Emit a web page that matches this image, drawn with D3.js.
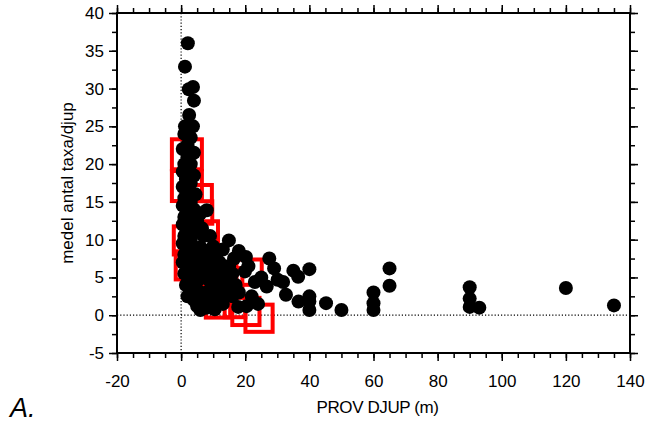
<!DOCTYPE html>
<html><head><meta charset="utf-8">
<script src="https://cdn.jsdelivr.net/npm/d3@7"></script>
<style>body{margin:0;background:#fff;} text{font-family:"Liberation Sans",Arial,sans-serif;}</style>
</head><body>
<svg id="c" width="648" height="423"></svg>
<script>
// Data
const xTicks = [-20, 0, 20, 40, 60, 80, 100, 120, 140];
const yTicks = [-5, 0, 5, 10, 15, 20, 25, 30, 35, 40];
const xLabel = "PROV DJUP (m)";
const yLabel = "medel antal taxa/djup";
const panelLabel = "A.";

// black series: depth (m), mean taxa per depth
const blackX = [2.1,1.2,3.7,2.4,4,2.5,1.2,3.7,
 1,3,2,0.5,4,2,1,3,2.5,0.5,4,1.5,3,0.5,2,4.5,1,3,
 0.5,2,4,6,8,1,3,5,0.5,2,6.5,4,1,3,7,10,9,
 0.5,2,4,6,8,11,13,1,3,5,7,9,12,15,0.5,2,4,6,8,10,12,14,16,1,3,5,7,9,11,13,15,17,1.5,3,6,8,10,12,14,16,2,4,7,9,11,13,5,6,8,15.2,17.8,20.4,10.5,
 14.9,20.2,27.5,29,35,40,30.1,32.7,36.6,40,40,40,45.2,50,60,60,60,65,65,90,90,90,93,120,135,36.5,31.8,26.7,23,19.9,18,22,25,24,21,18,16.5];
const blackY = [36,32.9,30.2,29.9,28.4,26.5,25,25,
 24,23.5,22.5,22,21.5,21,20,20,19.5,19,18.5,18,17.5,17,16.5,16,15.5,15,
 14.5,14,14,13.5,13.9,13,12.5,12.5,12,11.5,11.5,11,10.5,10,10.5,9.1,10.5,
 9.5,9,8.5,9,8.5,8,8.7,8,7.5,7.5,7,7.3,7,6.5,7,6.5,6,6,6,6,5.5,6,5.5,5.5,5,4.5,5,4.5,4.5,4,4.5,4,4,3.5,3,3,3.5,2.5,3,2.5,2.5,2,1.8,1.5,2,1.5,1.2,0.7,1,2.9,1.1,1.2,0.8,
 9.9,7.7,7.5,6.2,5.9,6.1,4.7,2.7,1.8,2.5,0.7,1.8,1.6,0.7,3,1.6,0.7,6.2,3.9,3.7,2.2,1.1,1.0,3.6,1.3,5.1,4.4,3.8,4.4,5.8,3,2.5,5,1.5,6.5,8.5,7.5];

// red series: depth, mean taxa, relative weight (symbol size)
const redX = [1.8,1.8,5.5,6.2,2.1,7.4,5.9,11,11.5,21.2,20.2,24.3,16.8,2.7,15];
const redY = [21.3,17.1,15.5,13.6,9.9,10.7,5.7,3.3,1.3,5.7,0.5,-0.4,1.1,6.6,4.5];
const redW = [32,32,28,24,30,28,30,32,26,27,29,29,22,30,28];

const svg = d3.select("#c");
const m = {l:117, r:630, t:13, b:353};
const x = d3.scaleLinear().domain([-20,140]).range([m.l,m.r]);
const y = d3.scaleLinear().domain([-5,40]).range([m.b,m.t]);
const side = d3.scaleLinear().domain([0,32]).range([0,30]);

// dotted zero lines
svg.append("line").attr("x1",x(0)).attr("x2",x(0)).attr("y1",m.t).attr("y2",m.b)
  .attr("stroke","#000").attr("stroke-width",1.2).attr("stroke-dasharray","1.2,2");
svg.append("line").attr("x1",m.l).attr("x2",m.r).attr("y1",y(0)).attr("y2",y(0))
  .attr("stroke","#000").attr("stroke-width",1.2).attr("stroke-dasharray","1.2,2");

// red squares
const red = redX.map((d,i)=>({x:d,y:redY[i],w:redW[i]}));
svg.append("g").selectAll("rect").data(red).join("rect")
  .attr("x",d=>x(d.x)-side(d.w)/2).attr("y",d=>y(d.y)-side(d.w)/2)
  .attr("width",d=>side(d.w)).attr("height",d=>side(d.w))
  .attr("fill","none").attr("stroke","#ff0000").attr("stroke-width",4);

// black circles
const blk = blackX.map((d,i)=>({x:d,y:blackY[i]}));
svg.append("g").selectAll("circle").data(blk).join("circle")
  .attr("cx",d=>x(d.x)).attr("cy",d=>y(d.y)).attr("r",7).attr("fill","#000");

// axes
const minorX = d3.range(-20,141,5), minorY = d3.range(-5,40.1,2.5);
function axisG(axisFn, scale, ticks, minor, tr, showLabels, pad){
  const g = svg.append("g").attr("transform",tr);
  g.call(axisFn(scale).tickValues(minor).tickSize(5).tickFormat(""));
  const g2 = svg.append("g").attr("transform",tr);
  g2.call(axisFn(scale).tickValues(ticks).tickSize(8).tickPadding(pad).tickFormat(showLabels?(d=>String(d)):""));
  [g,g2].forEach(gg=>{
    gg.select(".domain").remove();
    gg.selectAll("line").attr("stroke","#000").attr("stroke-width",1.5);
    gg.selectAll("text").attr("font-size",17).attr("fill","#000").attr("font-family","Liberation Sans, Arial, sans-serif");
  });
}
axisG(d3.axisBottom, x, xTicks, minorX, `translate(0,${m.b})`, true, 14);
axisG(d3.axisTop, x, xTicks, minorX, `translate(0,${m.t})`, false, 4);
axisG(d3.axisLeft, y, yTicks, minorY, `translate(${m.l},0)`, true, 5);
axisG(d3.axisRight, y, yTicks, minorY, `translate(${m.r},0)`, false, 4);

svg.append("rect").attr("x",m.l).attr("y",m.t).attr("width",m.r-m.l).attr("height",m.b-m.t)
  .attr("fill","none").attr("stroke","#000").attr("stroke-width",2);

svg.append("text").attr("x",(m.l+m.r)/2+4).attr("y",413).attr("text-anchor","middle")
  .attr("font-size",17).attr("letter-spacing","-0.4").text(xLabel);
svg.append("text").attr("transform",`translate(73,${(m.t+m.b)/2}) rotate(-90)`)
  .attr("text-anchor","middle").attr("font-size",17).text(yLabel);
svg.append("text").attr("x",10).attr("y",417).attr("font-size",27).attr("font-style","italic").text(panelLabel);
</script>
</body></html>
